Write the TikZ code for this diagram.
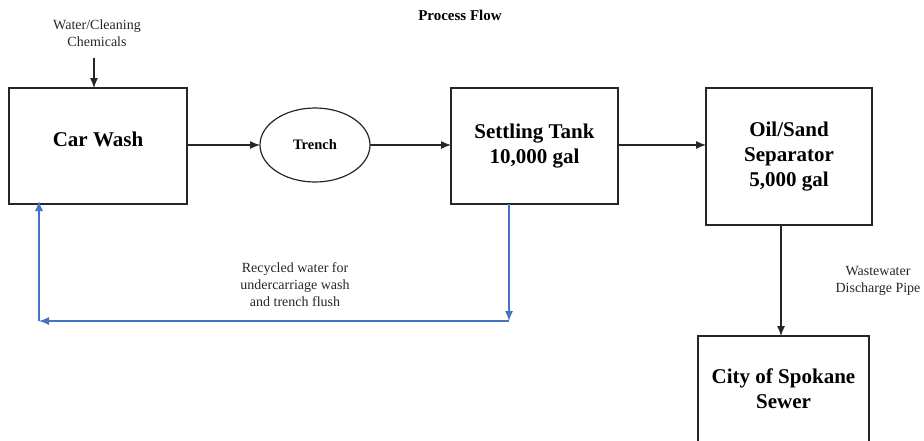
\documentclass[tikz,border=0pt]{standalone}
\usepackage{fontspec}
\setmainfont{Liberation Serif}
\usetikzlibrary{arrows.meta,shapes.geometric}
\definecolor{inkgray}{HTML}{262626}
\definecolor{loopblue}{HTML}{4472C4}
\tikzset{
  unitbox/.style={draw=inkgray, line width=1.4pt, inner sep=0pt, outer sep=0pt,
    align=center, font=\fontsize{21}{25}\selectfont\bfseries},
  bigtext/.style={align=center, inner sep=0pt, font=\fontsize{21}{25}\selectfont\bfseries},
  smalltext/.style={align=center, inner sep=0pt, text=inkgray, font=\fontsize{14}{17}\selectfont},
  flow/.style={draw=inkgray, line width=1.2pt, -{Latex[length=10pt,width=8pt]}},
  recycle/.style={draw=loopblue, line width=1.2pt, -{Latex[length=10pt,width=8pt]}},
}
\begin{document}
\begin{tikzpicture}[x=1pt, y=-1pt]
  \useasboundingbox (0,0) rectangle (924,440);
  \clip (0,0) rectangle (924,440);

  % title
  \node[font=\fontsize{15}{18}\selectfont\bfseries] (title) at (460,15) {Process Flow};

  % process units
  \node[unitbox, minimum width=178pt, minimum height=116pt] (car) at (98,146) {};
  \node[bigtext] (cartext) at (98,139) {Car Wash};
  \node[draw=inkgray, line width=1.2pt, ellipse, minimum width=110pt, minimum height=74pt,
        inner sep=0pt, outer sep=0pt, font=\fontsize{14.5}{17}\selectfont\bfseries]
        (trench) at (315,145) {Trench};
  \node[unitbox, minimum width=167pt, minimum height=116pt] (settle) at (534.5,146)
        {Settling Tank\\10,000 gal};
  \node[unitbox, minimum width=166pt, minimum height=137pt] (sep) at (789,156.5)
        {Oil/Sand\\Separator\\5,000 gal};
  \node[unitbox, minimum width=171pt, minimum height=150pt] (sewer) at (783.5,411) {};
  \node[bigtext] (sewertext) at (783.5,389) {City of Spokane\\Sewer};

  % labels
  \node[smalltext] (chem) at (97,33) {Water/Cleaning\\Chemicals};
  \node[smalltext] (recyc) at (295,285) {Recycled water for\\undercarriage wash\\and trench flush};
  \node[smalltext] (pipe) at (878,281) {Wastewater\\Discharge Pipe};

  % main flow
  \coordinate (chemin) at (94,58);
  \draw[flow] (chemin) -- (chemin |- car.north);
  \draw[flow] (car.east |- trench.west) -- (trench.west);
  \draw[flow] (trench.east) -- (settle.west |- trench.east);
  \draw[flow] (settle.east |- trench.east) -- (sep.west |- trench.east);
  \draw[flow] ([xshift=-8pt]sep.south) -- ([xshift=-8pt]sep.south |- sewer.north);

  % recycle loop
  \coordinate (loopR) at (509,321);
  \coordinate (loopL) at (39,321);
  \draw[recycle] (loopR |- settle.south) -- (loopR);
  \draw[recycle] (loopR) -- (loopL);
  \draw[recycle] (loopL) -- ([yshift=3pt]loopL |- car.south);
\end{tikzpicture}
\end{document}
